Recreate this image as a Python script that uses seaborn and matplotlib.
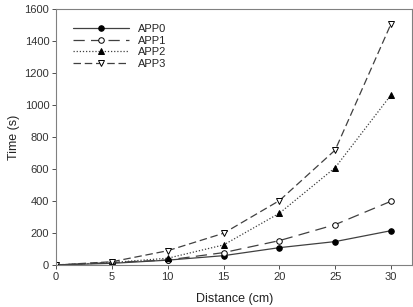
import matplotlib
matplotlib.use('Agg')
import matplotlib.pyplot as plt
import seaborn as sns
import pandas as pd

sns.set_style('white')
plt.rcParams['font.family'] = ['Liberation Sans', 'DejaVu Sans']

distance = [0, 5, 10, 15, 20, 25, 30]
app0 = [0, 10, 30, 58, 108, 146, 214]
app1 = [0, 15, 31, 77, 152, 252, 398]
app2 = [0, 15, 42, 125, 323, 608, 1062]
app3 = [0, 20, 89, 198, 402, 718, 1506]
series_names = ['APP0', 'APP1', 'APP2', 'APP3']

df = pd.DataFrame({'Distance': distance * 4,
                   'Time': app0 + app1 + app2 + app3,
                   'App': [n for n in series_names for _ in distance]})

styles = {
    'APP0': dict(marker='o', mfc='black', dashes=None),
    'APP1': dict(marker='o', mfc='white', dashes=(9, 5)),
    'APP2': dict(marker='^', mfc='black', dashes=(1, 1.5)),
    'APP3': dict(marker='v', mfc='white', dashes=(6, 3)),
}

fig = plt.figure(figsize=(4.13, 3.07), dpi=100)
ax = fig.add_axes([0.136, 0.137, 0.862, 0.834])
line_col = '#404040'
for name in series_names:
    st = styles[name]
    sub = df[df['App'] == name]
    line = sns.lineplot(x='Distance', y='Time', data=sub, ax=ax, color=line_col,
                        marker=st['marker'], markersize=4, markerfacecolor=st['mfc'],
                        markeredgecolor='black', markeredgewidth=0.7, linewidth=0.9,
                        label=name).lines[-1]
    if st['dashes'] is not None:
        line.set_dashes(st['dashes'])

ax.set_xlim(0, 31.9)
ax.set_ylim(0, 1600)
ax.set_xticks([0, 5, 10, 15, 20, 25, 30])
ax.set_yticks(range(0, 1601, 200))
ax.tick_params(axis='both', labelsize=8, length=3, width=0.6,
               direction='out', colors='#333333', left=True, bottom=True, pad=2)
for sp in ax.spines.values():
    sp.set_color('#808080')
    sp.set_linewidth(0.8)
ax.set_xlabel('Distance (cm)', fontsize=9, labelpad=8, color='#222222')
ax.set_ylabel('Time (s)', fontsize=9, labelpad=3, color='#222222')

ax.legend(loc='upper left', bbox_to_anchor=(0.02, 0.98), frameon=False,
          fontsize=8, handlelength=5.0, handletextpad=0.8, labelspacing=0.15)
fig.savefig('out.png', dpi=100)
